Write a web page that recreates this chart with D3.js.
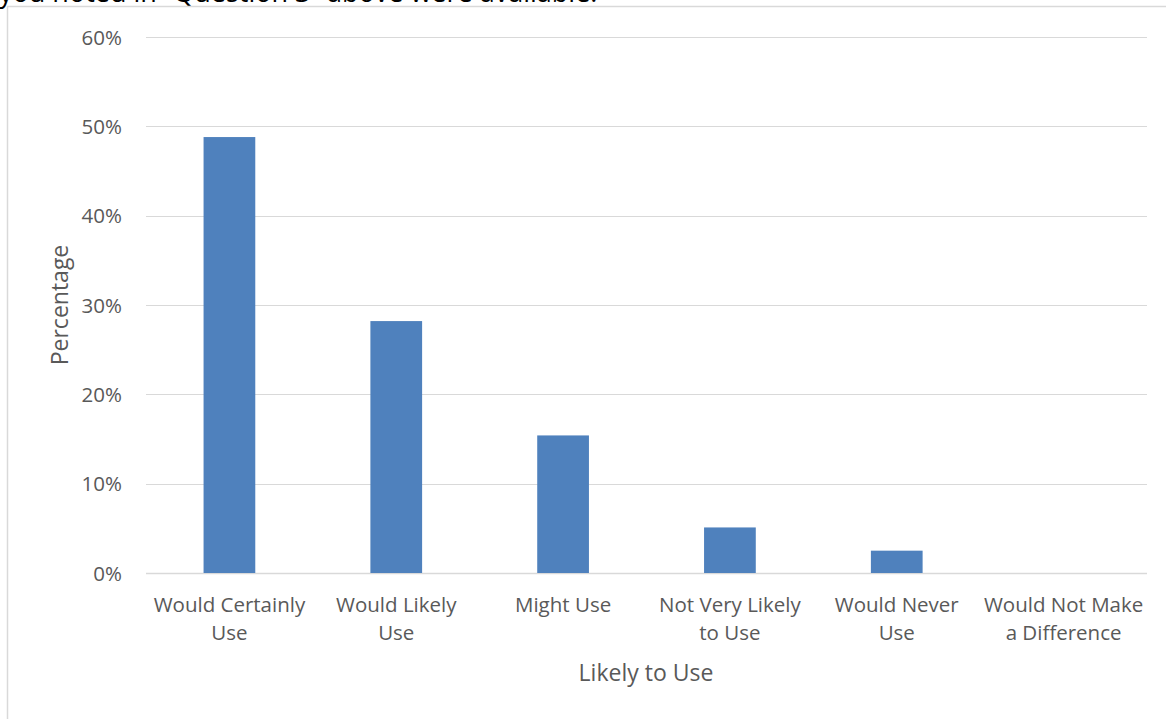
<!DOCTYPE html>
<html><head><meta charset="utf-8">
<script src="https://cdn.jsdelivr.net/npm/d3@7"></script>
<style>
html,body{margin:0;padding:0;background:#fff;overflow:hidden}
svg{display:block}
</style></head>
<body>
<script>
const categories = [["Would Certainly","Use"],["Would Likely","Use"],["Might Use"],["Not Very Likely","to Use"],["Would Never","Use"],["Would Not Make","a Difference"]];
const values = [0.488, 0.282, 0.154, 0.051, 0.025, 0];
const yTicks = [0, 0.1, 0.2, 0.3, 0.4, 0.5, 0.6];
const title = "you noted in \u201CQuestion 3\u201D above were available.";
const xTitle = "Likely to Use";
const yTitle = "Percentage";

const W = 1166, H = 719;
const font = "'Open Sans', sans-serif";
const svg = d3.select("body").append("svg").attr("width", W).attr("height", H);

// heading text, cut off at the top edge as in the reference
svg.append("text").attr("x", -1).attr("y", 2).attr("font-family", font)
  .attr("font-size", 27).attr("fill", "#000").text(title);

// chart frame
svg.append("rect").attr("x", 7.5).attr("y", 6.5).attr("width", W).attr("height", H)
  .attr("fill", "none").attr("stroke", "#D9D9D9").attr("stroke-width", 1.5);

const x = d3.scaleBand().domain(d3.range(categories.length)).range([146, 1147]).paddingInner(0.69).paddingOuter(0.345);
const y = d3.scaleLinear().domain([0, 0.6]).range([573, 37]);

const grid = svg.append("g");
grid.selectAll("line").data(yTicks).join("line")
  .attr("x1", 146).attr("x2", 1147)
  .attr("y1", d => Math.round(y(d)) + 0.5).attr("y2", d => Math.round(y(d)) + 0.5)
  .attr("stroke", "#D9D9D9").attr("stroke-width", d => d === 0 ? 1.5 : 1);

const yAxis = d3.axisLeft(y).tickValues(yTicks).tickFormat(d3.format(".0%")).tickSize(0).tickPadding(0);
const ya = svg.append("g").attr("transform", "translate(122,0)").call(yAxis);
ya.select(".domain").remove();
ya.selectAll("text").attr("font-family", font).attr("font-size", 20.5).attr("fill", "#595959").attr("dy", "0.35em");

svg.append("g").selectAll("rect").data(values).join("rect")
  .attr("x", (d, i) => x(i)).attr("width", x.bandwidth())
  .attr("y", d => y(d)).attr("height", d => y(0) - y(d))
  .attr("fill", "#4F81BD");

const xa = svg.append("g");
categories.forEach((lines, i) => {
  const t = xa.append("text").attr("x", x(i) + x.bandwidth() / 2).attr("y", 612)
    .attr("text-anchor", "middle").attr("font-family", font).attr("font-size", 20.5).attr("fill", "#595959");
  lines.forEach((l, k) => t.append("tspan").attr("x", x(i) + x.bandwidth() / 2).attr("dy", k === 0 ? 0 : 28).text(l));
});

svg.append("text").attr("x", 646).attr("y", 681).attr("text-anchor", "middle")
  .attr("font-family", font).attr("font-size", 23).attr("fill", "#595959").text(xTitle);

svg.append("text").attr("transform", "translate(68,305) rotate(-90)").attr("text-anchor", "middle")
  .attr("font-family", font).attr("font-size", 23).attr("fill", "#595959").text(yTitle);
</script>
</body></html>
